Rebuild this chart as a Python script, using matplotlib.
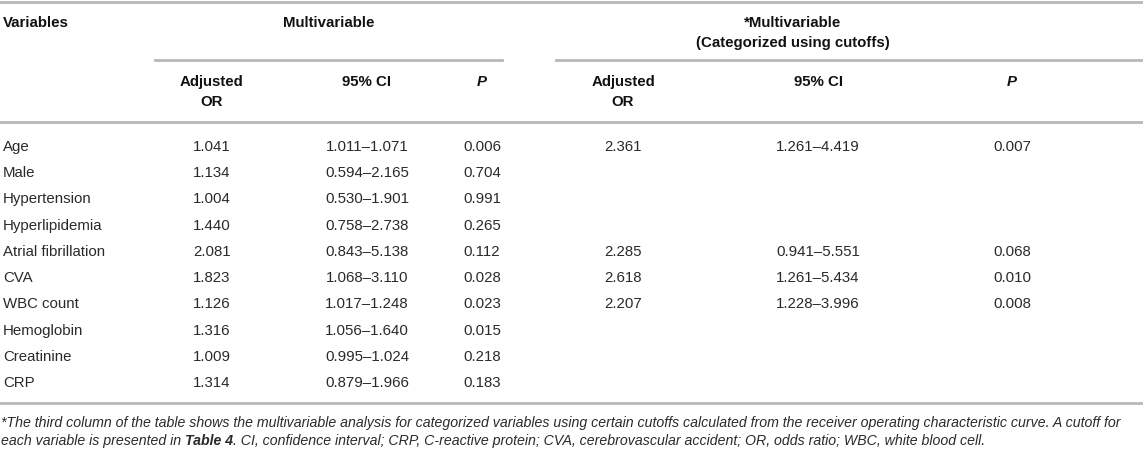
import matplotlib.pyplot as plt

# Table data
variables = ["Age", "Male", "Hypertension", "Hyperlipidemia", "Atrial fibrillation",
             "CVA", "WBC count", "Hemoglobin", "Creatinine", "CRP"]
or_multi = ["1.041", "1.134", "1.004", "1.440", "2.081", "1.823", "1.126", "1.316", "1.009", "1.314"]
ci_multi = ["1.011–1.071", "0.594–2.165", "0.530–1.901", "0.758–2.738", "0.843–5.138",
            "1.068–3.110", "1.017–1.248", "1.056–1.640", "0.995–1.024", "0.879–1.966"]
p_multi = ["0.006", "0.704", "0.991", "0.265", "0.112", "0.028", "0.023", "0.015", "0.218", "0.183"]
or_cat = ["2.361", "", "", "", "2.285", "2.618", "2.207", "", "", ""]
ci_cat = ["1.261–4.419", "", "", "", "0.941–5.551", "1.261–5.434", "1.228–3.996", "", "", ""]
p_cat = ["0.007", "", "", "", "0.068", "0.010", "0.008", "", "", ""]

foot1 = ("*The third column of the table shows the multivariable analysis for categorized variables "
         "using certain cutoffs calculated from the receiver operating characteristic curve. A cutoff for")
foot2_a = "each variable is presented in "
foot2_b = "Table 4"
foot2_c = (". CI, confidence interval; CRP, C-reactive protein; CVA, cerebrovascular accident; "
           "OR, odds ratio; WBC, white blood cell.")

plt.rcParams["font.family"] = ["Liberation Sans", "DejaVu Sans"]

W, H = 1143, 452
fig = plt.figure(figsize=(W / 100, H / 100), dpi=100)
ax = fig.add_axes([0, 0, 1, 1])
ax.set_xlim(0, W)
ax.set_ylim(H, 0)
ax.axis("off")

fs = 10.8
txt = "#2a2a2a"
hdr = "#111111"
rule = "#b8b8b8"

# rules
ax.plot([0, W], [3, 3], color=rule, lw=2)
ax.plot([155, 502], [61, 61], color=rule, lw=2)
ax.plot([556, W], [61, 61], color=rule, lw=2)
ax.plot([0, W], [123, 123], color=rule, lw=2)
ax.plot([0, W], [404, 404], color=rule, lw=2)

# column centres
cols_multi = [212, 367, 482]
cols_cat = [623, 818, 1012]

# header
ax.text(3, 23, "Variables", fontsize=fs, fontweight="bold", color=hdr, va="center", ha="left")
ax.text(329, 23, "Multivariable", fontsize=fs, fontweight="bold", color=hdr, va="center", ha="center")
ax.text(793, 23, "*Multivariable", fontsize=fs, fontweight="bold", color=hdr, va="center", ha="center")
ax.text(793, 43, "(Categorized using cutoffs)", fontsize=fs, fontweight="bold", color=hdr,
        va="center", ha="center")
for cx in (cols_multi, cols_cat):
    ax.text(cx[0], 82, "Adjusted", fontsize=fs, fontweight="bold", color=hdr, va="center", ha="center")
    ax.text(cx[0], 102, "OR", fontsize=fs, fontweight="bold", color=hdr, va="center", ha="center")
    ax.text(cx[1], 82, "95% CI", fontsize=fs, fontweight="bold", color=hdr, va="center", ha="center")
    ax.text(cx[2], 82, "P", fontsize=fs, fontweight="bold", style="italic", color=hdr,
            va="center", ha="center")

# body
y0, dy = 147, 26.22
for i, name in enumerate(variables):
    y = y0 + i * dy
    ax.text(3, y, name, fontsize=fs, color=txt, va="center", ha="left")
    for cx, vals in ((cols_multi, (or_multi, ci_multi, p_multi)), (cols_cat, (or_cat, ci_cat, p_cat))):
        for x, v in zip(cx, vals):
            if v[i]:
                ax.text(x, y, v[i], fontsize=fs, color=txt, va="center", ha="center")

# footnote
ffs = 10.2
ax.text(1, 423, foot1, fontsize=ffs, style="italic", color=txt, va="center", ha="left")
t1 = ax.text(1, 441, foot2_a, fontsize=ffs, style="italic", color=txt, va="center", ha="left")
t2 = ax.annotate(foot2_b, xy=(1, 0.5), xycoords=t1, fontsize=ffs, style="italic", fontweight="bold",
                 color=txt, va="center", ha="left")
ax.annotate(foot2_c, xy=(1, 0.5), xycoords=t2, fontsize=ffs, style="italic", color=txt,
            va="center", ha="left")

fig.savefig("out.png", dpi=100)
